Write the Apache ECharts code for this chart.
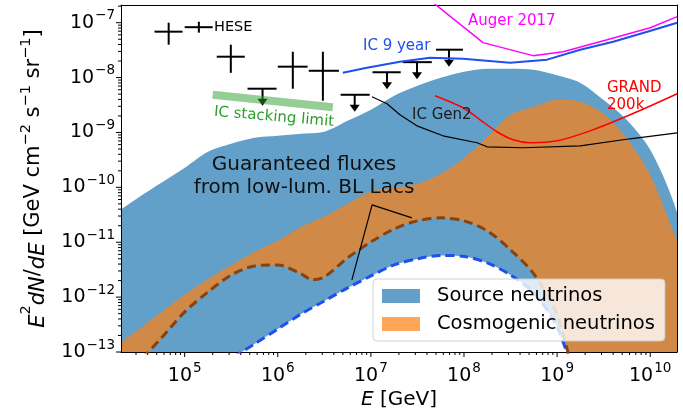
<!DOCTYPE html>
<html><head><meta charset="utf-8">
<script src="https://cdn.jsdelivr.net/npm/echarts@6.0.0/dist/echarts.min.js"></script>
<style>html,body{margin:0;padding:0;background:#fff}#c{width:683px;height:413px}</style>
</head><body><div id="c"></div>
<script>
// ---------------- data ----------------
const E_src = [1.78e4, 3.16e4, 5.62e4, 1e5, 1.78e5, 3.16e5, 5.62e5, 1e6, 1.78e6, 3.16e6, 5.62e6, 1e7, 1.78e7, 3.16e7, 5.62e7, 1e8, 1.78e8, 3.16e8, 5.62e8, 1e9, 1.78e9, 3.16e9, 5.62e9, 1e10, 1.78e10, 3.16e10];
const src_upper = [3.29e-11, 6.44e-11, 1.21e-10, 2.27e-10, 4.45e-10, 6.22e-10, 8.0e-10, 8.69e-10, 9.46e-10, 1.03e-9, 1.63e-9, 2.60e-9, 4.67e-9, 7.10e-9, 9.93e-9, 1.28e-8, 1.45e-8, 1.45e-8, 1.39e-8, 1.1e-8, 8.0e-9, 3.9e-9, 1.68e-9, 4.83e-10, 5.4e-11, 2.06e-12];
const src_lower = [3.5e-15, 6.5e-15, 1.2e-14, 2.2e-14, 4.1e-14, 7.6e-14, 1.40e-13, 2.62e-13, 4.93e-13, 8.51e-13, 1.47e-12, 2.43e-12, 3.86e-12, 4.97e-12, 5.75e-12, 5.52e-12, 4.20e-12, 2.53e-12, 1.19e-12, 2.86e-13, 1.64e-14, 1e-15, 1e-16, 1e-17, 1e-18, 1e-19];

const E_cos = [1.78e4, 3.16e4, 5.62e4, 1e5, 1.78e5, 3.16e5, 5.62e5, 1e6, 1.78e6, 2.37e6, 3.16e6, 5.62e6, 1e7, 1.78e7, 3.16e7, 5.62e7, 1e8, 1.78e8, 3.16e8, 5.62e8, 1e9, 1.78e9, 3.16e9, 5.62e9, 1e10, 1.78e10, 3.16e10];
const cos_upper = [1.29e-13, 2.52e-13, 5.37e-13, 1.10e-12, 2.14e-12, 3.86e-12, 6.67e-12, 1.06e-11, 1.91e-11, 2.36e-11, 2.90e-11, 5.00e-11, 8.28e-11, 9.79e-11, 1.16e-10, 1.76e-10, 3.4e-10, 8.34e-10, 2.10e-9, 2.94e-9, 3.94e-9, 3.63e-9, 2.19e-9, 7.67e-10, 1.69e-10, 1.55e-11, 2.06e-12];
const cos_lower = [2.0e-14, 6.3e-14, 1.80e-13, 5.37e-13, 1.24e-12, 2.53e-12, 3.70e-12, 3.86e-12, 2.65e-12, 2.06e-12, 2.33e-12, 5.18e-12, 1.01e-11, 1.75e-11, 2.45e-11, 2.78e-11, 2.45e-11, 1.61e-11, 7.24e-12, 2.65e-12, 4.73e-13, 1.33e-14, 1e-15, 1e-16, 1e-17, 1e-18, 1e-19];

const ic9_E = [5.0e6, 9.06e6, 2.05e7, 4.31e7, 9.75e7, 3.13e8, 7.8e8, 1.77e9, 4.0e9, 9.29e9, 1.95e10];
const ic9_F = [1.22e-8, 1.51e-8, 1.95e-8, 2.30e-8, 2.21e-8, 1.87e-8, 2.12e-8, 3.22e-8, 4.51e-8, 6.86e-8, 1.0e-7];

const auger_E = [4.53e7, 1.6e8, 5.52e8, 1.16e9, 3.45e9, 1e10, 1.95e10];
const auger_F = [2.41e-7, 4.33e-8, 2.51e-8, 2.96e-8, 4.9e-8, 8.1e-8, 1.29e-7];

const gen2_E = [1.026e7, 1.49e7, 2.05e7, 3.12e7, 5.95e7, 1.38e8, 1.77e8, 4.31e8, 1.77e9, 6.1e9, 1.95e10];
const gen2_F = [4.48e-9, 3.33e-9, 2.10e-9, 1.32e-9, 8.69e-10, 6.49e-10, 5.48e-10, 5.26e-10, 5.71e-10, 7.67e-10, 9.86e-10];

const grand_E = [4.88e7, 9.75e7, 1.49e8, 2.26e8, 3.37e8, 5.13e8, 1e9, 2.26e9, 6.1e9, 1.95e10];
const grand_F = [4.67e-9, 2.82e-9, 1.70e-9, 1.03e-9, 7.35e-10, 6.49e-10, 7.05e-10, 1.07e-9, 2.10e-9, 5.07e-9];

const stack_E = [2.0e5, 3.9e6];
const stack_F = [4.86e-9, 2.88e-9];

const hese_E   = [6.73e4, 1.42e5, 3.13e5, 1.45e6, 3.05e6];
const hese_Elo = [4.74e4, 1.0e5, 2.21e5, 1.0e6, 2.15e6];
const hese_Ehi = [9.48e4, 2.0e5, 4.42e5, 2.09e6, 4.53e6];
const hese_F   = [6.86e-8, 8.28e-8, 2.40e-8, 1.58e-8, 1.33e-8];
const hese_Flo = [3.97e-8, 6.58e-8, 1.22e-8, 6.27e-9, 3.79e-9];
const hese_Fhi = [1.0e-7, 1.04e-7, 3.97e-8, 2.96e-8, 2.96e-8];

const ul_E   = [6.86e5, 6.70e6, 1.49e7, 3.13e7, 6.9e7];
const ul_Elo = [4.73e5, 4.73e6, 1.04e7, 2.20e7, 5.0e7];
const ul_Ehi = [9.70e5, 9.70e6, 2.09e7, 4.51e7, 9.75e7];
const ul_F   = [6.27e-9, 4.86e-9, 1.25e-8, 1.91e-8, 3.22e-8];

const bllac_E = [6.25e6, 1.03e7, 2.76e7];
const bllac_F = [2.06e-12, 4.80e-11, 2.78e-11];

const xMajorTicks = [1e5, 1e6, 1e7, 1e8, 1e9, 1e10];
const yMajorTicks = [1e-13, 1e-12, 1e-11, 1e-10, 1e-9, 1e-8, 1e-7];
const xTickExp = ['5', '6', '7', '8', '9', '10'];
const yTickExp = ['\u221213', '\u221212', '\u221211', '\u221210', '\u22129', '\u22128', '\u22127'];
const minorMultipliers = [2, 3, 4, 5, 6, 7, 8, 9];

const X_MIN = 2.07e4, X_MAX = 1.94e10, Y_MIN = 1e-13, Y_MAX = 2.1e-7;
const FONT = 'DejaVu Sans';
const BASE_FS = 19, SUP_FS = 13.5;

// ---------------- helpers ----------------
const pairs = (xs, ys) => xs.map((x, i) => [x, ys[i]]);
function minorList(majors, lo, hi) {
  const out = [];
  const decades = [majors[0] / 10].concat(majors);
  decades.forEach(d => minorMultipliers.forEach(m => {
    const v = d * m;
    if (v >= lo && v <= hi) out.push(v);
  }));
  return out;
}
const measureCtx = document.createElement('canvas').getContext('2d');
function textWidth(t, fs) { measureCtx.font = fs + 'px "' + FONT + '"'; return measureCtx.measureText(t).width; }

// tick rows: [x, y, isMajor, labelIndex]
const xTickData = xMajorTicks.map((v, i) => [v, Y_MIN, 1, i]).concat(minorList(xMajorTicks, X_MIN, X_MAX).map(v => [v, Y_MIN, 0, -1]));
const yTickData = yMajorTicks.map((v, i) => [X_MIN, v, 1, i]).concat(minorList(yMajorTicks, Y_MIN, Y_MAX).map(v => [X_MIN, v, 0, -1]));

const chart = echarts.init(document.getElementById('c'), null, { renderer: 'canvas' });
const lineBase = { type: 'line', symbol: 'none', silent: true, clip: true };
const axisLineStyle = { show: true, onZero: false, lineStyle: { color: '#000', width: 1 } };

const BLUE = '#62a0ca', ORANGE_ON_BLUE = '#d08946';

const option = {
  animation: false,
  grid: { left: 121, top: 5, right: 6, bottom: 61, containLabel: false, outerBoundsMode: 'none' },
  xAxis: [{
    type: 'log', min: X_MIN, max: X_MAX, position: 'bottom', z: 3,
    axisLine: axisLineStyle, axisTick: { show: false }, splitLine: { show: false }, axisLabel: { show: false },
    name: '{i|E} [GeV]', nameLocation: 'middle', nameGap: 35,
    nameTextStyle: { fontSize: 20, fontFamily: FONT, color: '#000', lineHeight: 26,
      rich: { i: { fontSize: 20, fontFamily: FONT, fontStyle: 'italic', color: '#000', lineHeight: 26 } } }
  }, {
    type: 'log', min: X_MIN, max: X_MAX, position: 'top', z: 3,
    axisLine: axisLineStyle, axisTick: { show: false }, axisLabel: { show: false }, splitLine: { show: false }
  }],
  yAxis: [{
    type: 'log', min: Y_MIN, max: Y_MAX, position: 'left', z: 3,
    axisLine: axisLineStyle, axisTick: { show: false }, splitLine: { show: false }, axisLabel: { show: false },
    name: '{i|E}{s|2}{i|dN}/{i|dE} [GeV cm{s|\u22122} s{s|\u22121} sr{s|\u22121}]',
    nameLocation: 'middle', nameGap: 72,
    nameTextStyle: { fontSize: 21, fontFamily: FONT, color: '#000', lineHeight: 30,
      rich: {
        i: { fontSize: 21, fontFamily: FONT, fontStyle: 'italic', color: '#000', lineHeight: 30, verticalAlign: 'bottom' },
        s: { fontSize: 14.5, fontFamily: FONT, color: '#000', lineHeight: 12, verticalAlign: 'top' }
      } }
  }, {
    type: 'log', min: Y_MIN, max: Y_MAX, position: 'right', z: 3,
    axisLine: axisLineStyle, axisTick: { show: false }, axisLabel: { show: false }, splitLine: { show: false }
  }],
  legend: {
    orient: 'vertical', left: 373, top: 279, selectedMode: false,
    backgroundColor: 'rgba(255,255,255,0.8)', borderColor: 'rgba(204,204,204,0.9)', borderWidth: 1, borderRadius: 4,
    padding: [6, 10, 6, 9], itemGap: 6, itemWidth: 38, itemHeight: 14, icon: 'rect',
    itemStyle: { borderWidth: 0 },
    textStyle: { fontSize: 19.5, fontFamily: FONT, color: '#000', lineHeight: 22, padding: [0, 0, 0, 12] },
    data: [
      { name: 'Source neutrinos', itemStyle: { color: '#62a0ca' } },
      { name: 'Cosmogenic neutrinos', itemStyle: { color: '#ffa556' } }
    ]
  },
  series: [
    // Layered fills: blue under source upper, orange under cosmogenic upper,
    // blue again under cosmogenic lower, white under source lower
    Object.assign({}, lineBase, { name: 'Source neutrinos', data: pairs(E_src, src_upper), smooth: 0.3,
      itemStyle: { color: BLUE }, lineStyle: { width: 0, opacity: 0 },
      areaStyle: { color: BLUE, opacity: 1, origin: 'start' } }),
    Object.assign({}, lineBase, { name: 'Cosmogenic neutrinos', data: pairs(E_cos, cos_upper), smooth: 0.3,
      itemStyle: { color: '#ffa556' }, lineStyle: { width: 0, opacity: 0 },
      areaStyle: { color: ORANGE_ON_BLUE, opacity: 1, origin: 'start' } }),
    Object.assign({}, lineBase, { name: 'cos_lower_fill', data: pairs(E_cos, cos_lower), smooth: 0.3,
      lineStyle: { width: 0, opacity: 0 }, areaStyle: { color: BLUE, opacity: 1, origin: 'start' } }),
    Object.assign({}, lineBase, { name: 'src_lower_fill', data: pairs(E_src, src_lower), smooth: 0.3,
      lineStyle: { width: 0, opacity: 0 }, areaStyle: { color: '#ffffff', opacity: 1, origin: 'start' } }),
    // IC stacking limit band
    Object.assign({}, lineBase, { name: 'IC stacking', data: pairs(stack_E, stack_F),
      lineStyle: { color: 'rgba(44,160,44,0.5)', width: 8, cap: 'butt' } }),
    // Lower boundaries (dashed)
    Object.assign({}, lineBase, { name: 'cos_low_line', data: pairs(E_cos, cos_lower), smooth: 0.3,
      lineStyle: { color: '#87430f', width: 3, type: [9, 5] } }),
    Object.assign({}, lineBase, { name: 'src_low_line', data: pairs(E_src, src_lower), smooth: 0.3,
      lineStyle: { color: '#1f4ff0', width: 3, type: [9, 5] } }),
    // Sensitivity curves
    Object.assign({}, lineBase, { name: 'IC 9 year', data: pairs(ic9_E, ic9_F), lineStyle: { color: '#1f4ff0', width: 2 } }),
    Object.assign({}, lineBase, { name: 'Auger 2017', data: pairs(auger_E, auger_F), lineStyle: { color: '#ff00ff', width: 1.5 } }),
    Object.assign({}, lineBase, { name: 'IC Gen2', data: pairs(gen2_E, gen2_F), lineStyle: { color: '#000', width: 1.2 } }),
    Object.assign({}, lineBase, { name: 'GRAND 200k', data: pairs(grand_E, grand_F), smooth: 0.3, lineStyle: { color: '#ff0000', width: 1.5 } }),
    // BL Lac annotation pointer lines
    Object.assign({}, lineBase, { name: 'bllac', data: pairs(bllac_E, bllac_F), lineStyle: { color: '#000', width: 1.2 } }),
    // HESE data points
    {
      type: 'custom', name: 'HESE', silent: true,
      data: hese_E.map((e, i) => [e, hese_F[i], hese_Elo[i], hese_Ehi[i], hese_Flo[i], hese_Fhi[i]]),
      encode: { x: 0, y: 1 },
      renderItem: (params, api) => {
        const l = api.coord([api.value(2), api.value(1)]);
        const r = api.coord([api.value(3), api.value(1)]);
        const b = api.coord([api.value(0), api.value(4)]);
        const t = api.coord([api.value(0), api.value(5)]);
        const st = { stroke: '#000', lineWidth: 2 };
        return { type: 'group', children: [
          { type: 'line', shape: { x1: l[0], y1: l[1], x2: r[0], y2: r[1] }, style: st },
          { type: 'line', shape: { x1: b[0], y1: b[1], x2: t[0], y2: t[1] }, style: st }
        ] };
      }
    },
    // Upper limits
    {
      type: 'custom', name: 'UL', silent: true,
      data: ul_E.map((e, i) => [e, ul_F[i], ul_Elo[i], ul_Ehi[i]]),
      encode: { x: 0, y: 1 },
      renderItem: (params, api) => {
        const c = api.coord([api.value(0), api.value(1)]);
        const l = api.coord([api.value(2), api.value(1)]);
        const r = api.coord([api.value(3), api.value(1)]);
        const st = { stroke: '#000', lineWidth: 2 };
        return { type: 'group', children: [
          { type: 'line', shape: { x1: l[0], y1: l[1], x2: r[0], y2: r[1] }, style: st },
          { type: 'line', shape: { x1: c[0], y1: c[1], x2: c[0], y2: c[1] + 11 }, style: st },
          { type: 'polygon', shape: { points: [[c[0] - 5, c[1] + 10], [c[0] + 5, c[1] + 10], [c[0], c[1] + 17]] }, style: { fill: '#000' } }
        ] };
      }
    },
    // X axis ticks and labels (log major/minor)
    {
      type: 'custom', name: 'xticks', silent: true, clip: false, data: xTickData, encode: { x: 0, y: 1 },
      renderItem: (params, api) => {
        const p = api.coord([api.value(0), Y_MIN]);
        const bottom = params.coordSys.y + params.coordSys.height;
        const major = api.value(2) === 1;
        const children = [{ type: 'line', shape: { x1: p[0], y1: bottom, x2: p[0], y2: bottom + (major ? 5 : 3) }, style: { stroke: '#000', lineWidth: 1 } }];
        if (major) {
          const sup = xTickExp[api.value(3)];
          const w10 = textWidth('10', BASE_FS), ws = textWidth(sup, SUP_FS);
          const x0 = p[0] - (w10 + ws + 1) / 2;
          children.push({ type: 'text', x: x0, y: bottom + 24, style: { text: '10', fill: '#000', fontSize: BASE_FS, fontFamily: FONT, align: 'left', verticalAlign: 'middle' } });
          children.push({ type: 'text', x: x0 + w10 + 1, y: bottom + 16, style: { text: sup, fill: '#000', fontSize: SUP_FS, fontFamily: FONT, align: 'left', verticalAlign: 'middle' } });
        }
        return { type: 'group', children: children };
      }
    },
    // Y axis ticks and labels
    {
      type: 'custom', name: 'yticks', silent: true, clip: false, data: yTickData, encode: { x: 0, y: 1 },
      renderItem: (params, api) => {
        const p = api.coord([X_MIN, api.value(1)]);
        const left = params.coordSys.x;
        const major = api.value(2) === 1;
        const children = [{ type: 'line', shape: { x1: left, y1: p[1], x2: left - (major ? 5 : 3), y2: p[1] }, style: { stroke: '#000', lineWidth: 1 } }];
        if (major) {
          const sup = yTickExp[api.value(3)];
          const ws = textWidth(sup, SUP_FS);
          const xr = left - 6;
          children.push({ type: 'text', x: xr, y: p[1] - 7, style: { text: sup, fill: '#000', fontSize: SUP_FS, fontFamily: FONT, align: 'right', verticalAlign: 'middle' } });
          children.push({ type: 'text', x: xr - ws - 1, y: p[1], style: { text: '10', fill: '#000', fontSize: BASE_FS, fontFamily: FONT, align: 'right', verticalAlign: 'middle' } });
        }
        return { type: 'group', children: children };
      }
    }
  ],
  graphic: [
    { type: 'text', x: 214, y: 27, z: 10, silent: true, style: { text: 'HESE', fill: '#000', fontSize: 14.5, fontFamily: FONT, align: 'left', verticalAlign: 'middle' } },
    { type: 'text', x: 363, y: 46, z: 10, silent: true, style: { text: 'IC 9 year', fill: '#1f4ff0', fontSize: 15, fontFamily: FONT, align: 'left', verticalAlign: 'middle' } },
    { type: 'text', x: 468, y: 21, z: 10, silent: true, style: { text: 'Auger 2017', fill: '#ff00ff', fontSize: 15, fontFamily: FONT, align: 'left', verticalAlign: 'middle' } },
    { type: 'text', x: 412, y: 115, z: 10, silent: true, style: { text: 'IC Gen2', fill: '#1a1a1a', fontSize: 15, fontFamily: FONT, align: 'left', verticalAlign: 'middle' } },
    { type: 'text', x: 607, y: 88, z: 10, silent: true, style: { text: 'GRAND', fill: '#ff0000', fontSize: 15, fontFamily: FONT, align: 'left', verticalAlign: 'middle' } },
    { type: 'text', x: 607, y: 105, z: 10, silent: true, style: { text: '200k', fill: '#ff0000', fontSize: 15, fontFamily: FONT, align: 'left', verticalAlign: 'middle' } },
    { type: 'text', x: 274, y: 117, rotation: -0.085, z: 10, silent: true, style: { text: 'IC stacking limit', fill: '#2ca02c', fontSize: 15, fontFamily: FONT, align: 'center', verticalAlign: 'middle' } },
    { type: 'text', x: 304, y: 176, z: 10, silent: true, style: { text: 'Guaranteed fluxes\nfrom low-lum. BL Lacs', fill: '#111', fontSize: 20, lineHeight: 23, fontFamily: FONT, align: 'center', verticalAlign: 'middle' } }
  ]
};
chart.setOption(option);
</script></body></html>
